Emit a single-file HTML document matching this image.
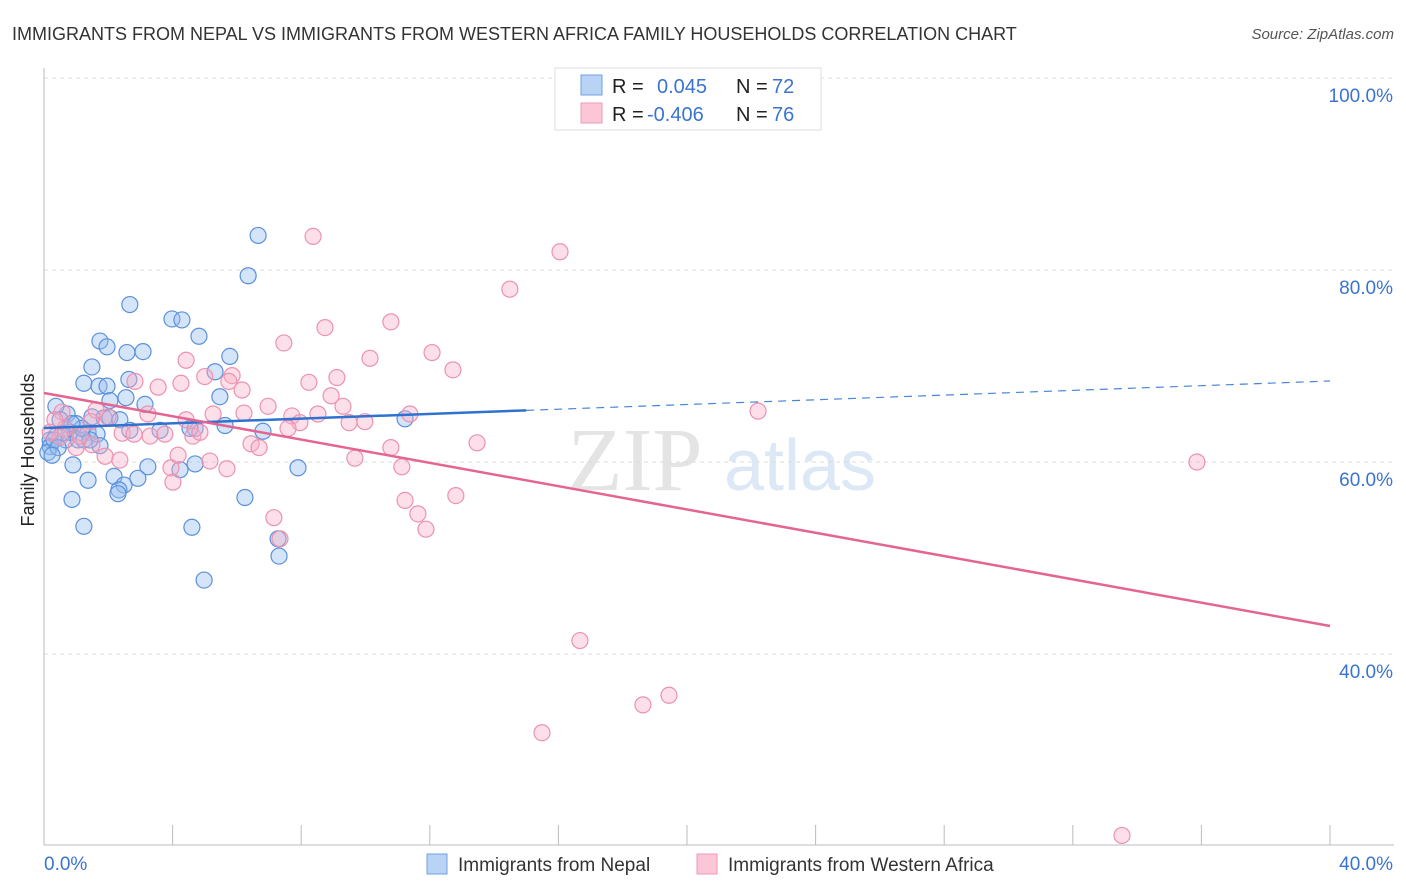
<!DOCTYPE html>
<html><head><meta charset="utf-8"><style>
body{margin:0;background:#fff;font-family:"Liberation Sans",sans-serif}
#c{position:relative;width:1406px;height:892px;overflow:hidden}
</style></head><body>
<div id="c">
<svg id="s" width="1406" height="892" xmlns="http://www.w3.org/2000/svg">
<text x="12" y="40" font-size="18" fill="#333">IMMIGRANTS FROM NEPAL VS IMMIGRANTS FROM WESTERN AFRICA FAMILY HOUSEHOLDS CORRELATION CHART</text>
<text x="1394" y="39" font-size="15" fill="#555" font-style="italic" text-anchor="end">Source: ZipAtlas.com</text>
<text x="40" y="456" font-size="18" fill="#222" transform="rotate(-90 34 456)" text-anchor="middle">Family Households</text>
<g><text x="635" y="490" font-size="90" fill="#e4e4e4" text-anchor="middle" font-family="Liberation Serif">ZIP</text><text x="800" y="490" font-size="72" fill="#dce8f6" text-anchor="middle">atlas</text></g>
<g id="grid"></g><g id="axes"></g><g id="pts"></g><g id="lines"></g>
<g>
<rect x="555" y="68" width="266" height="62" fill="#fff" stroke="#ddd"/>
<rect x="581" y="75" width="21" height="20" fill="#b9d3f5" stroke="#6f9fe0"/>
<rect x="581" y="103" width="21" height="20" fill="#fbc6d6" stroke="#ee9ab5"/>
<text x="612" y="93" font-size="20" fill="#222">R = </text><text x="657" y="93" font-size="20" fill="#3a74d0">0.045</text>
<text x="736" y="93" font-size="20" fill="#222">N = </text><text x="772" y="93" font-size="20" fill="#3a74d0">72</text>
<text x="612" y="121" font-size="20" fill="#222">R = </text><text x="647" y="121" font-size="20" fill="#3a74d0">-0.406</text>
<text x="736" y="121" font-size="20" fill="#222">N = </text><text x="772" y="121" font-size="20" fill="#3a74d0">76</text>
</g>
<g>
<rect x="427" y="854" width="20" height="20" fill="#b9d3f5" stroke="#6f9fe0"/>
<text x="458" y="871" font-size="19" fill="#333">Immigrants from Nepal</text>
<rect x="697" y="854" width="20" height="20" fill="#fbc6d6" stroke="#ee9ab5"/>
<text x="728" y="871" font-size="19" fill="#333">Immigrants from Western Africa</text>
</g>
</svg></div>
<script>
const yTicks=[100,80,60,40];
const yTickLabels=["100.0%","80.0%","60.0%","40.0%"];
const xTickLabels=["0.0%","40.0%"];
const blueX=[6.66,6.35,2.67,3.98,4.29,4.82,1.74,1.96,2.58,3.08,5.78,1.49,5.32,1.24,1.71,1.96,2.64,2.05,2.55,3.14,5.47,0.72,1.49,1.87,2.05,1.0,0.37,0.5,0.81,1.37,1.65,0.37,0.68,1.06,1.24,1.74,0.19,0.19,0.12,4.70,5.63,6.81,11.23,0.9,1.37,2.18,2.49,2.33,2.30,3.23,4.23,4.70,2.92,0.87,7.90,6.25,1.24,4.60,7.28,7.31,4.98,0.56,0.31,0.44,1.43,1.18,0.87,2.36,3.61,4.54,2.67,0.25];
const blueY=[83.6,79.4,76.4,74.9,74.8,73.1,72.6,72.0,71.4,71.5,71.0,69.9,69.4,68.2,67.9,67.9,68.6,66.4,66.7,66.0,66.8,65.0,64.7,64.6,64.6,64.0,65.8,64.4,63.1,63.1,62.9,62.7,62.3,62.3,62.3,61.7,62.3,61.6,61.0,63.5,63.8,63.2,64.5,59.7,58.1,58.5,57.6,57.1,56.7,59.5,59.2,59.8,58.3,56.1,59.4,56.3,53.3,53.2,52.0,50.2,47.7,63.0,62.3,61.5,62.3,63.5,64.0,64.4,63.3,63.5,63.3,60.7];
const pinkX=[8.37,16.05,14.49,10.79,8.74,7.46,4.42,10.14,12.07,12.72,2.83,3.55,4.26,5.0,5.85,6.16,5.75,8.24,9.11,8.93,6.97,7.71,8.52,9.30,6.22,5.26,3.23,1.99,1.62,1.46,0.65,0.5,0.56,1.0,1.49,1.9,2.43,3.30,3.76,4.63,4.85,6.44,6.69,7.96,9.49,9.98,11.38,10.79,9.67,5.16,5.69,3.95,4.01,11.13,11.23,11.63,11.88,12.81,13.47,7.15,7.34,22.21,35.86,16.67,19.44,18.63,15.49,33.53,7.59,2.80,1.12,0.34,0.19,4.17,2.36,4.42];
const pinkY=[83.5,81.9,78.0,74.6,74.0,72.4,70.6,70.8,71.4,69.6,68.4,67.8,68.2,68.9,69.0,67.5,68.4,68.3,68.8,66.9,65.8,64.8,65.0,65.8,65.1,65.0,65.0,64.7,65.4,64.2,63.5,62.6,65.2,61.5,61.8,60.6,63.0,62.7,62.9,62.7,63.1,61.9,61.5,64.1,64.1,64.2,65.0,61.5,60.4,60.1,59.3,59.4,57.9,59.5,56.0,54.6,53.0,56.5,62.0,54.2,52.0,65.3,60.0,41.4,35.7,34.7,31.8,21.1,63.5,62.9,62.7,64.4,63.1,60.7,60.2,64.4];
const blueTrend=[63.54,68.44], blueSolidEnd=15.0;
const pinkTrend=[67.19,42.92];
const NS="http://www.w3.org/2000/svg";
const sx=v=>44+v*32.15, sy=v=>1038-v*9.6;
function mk(t,a,p){const e=document.createElementNS(NS,t);for(const k in a)e.setAttribute(k,a[k]);p.appendChild(e);return e;}
const grid=document.getElementById('grid'),axes=document.getElementById('axes'),pts=document.getElementById('pts'),lines=document.getElementById('lines');
yTicks.forEach((t,i)=>{
 const l=mk('line',{x1:44,x2:1394,y1:sy(t),y2:sy(t),stroke:'#ddd','stroke-dasharray':'4,4'},grid);
 
 
 const tx=mk('text',{x:1393,y:sy(t)+24,'font-size':19,fill:'#3a74d0','text-anchor':'end'},grid);
 tx.textContent=yTickLabels[i];
 
 
});
let a=mk('line',{x1:44,x2:44,y1:68,y2:845,stroke:'#bbb'},axes);

a=mk('line',{x1:44,x2:1394,y1:845,y2:845,stroke:'#bbb'},axes);

for(let i=0;i<=10;i++){const t=mk('line',{x1:sx(i*4),x2:sx(i*4),y1:825,y2:845,stroke:'#bbb'},axes);
 }
let xl=mk('text',{x:44,y:870,'font-size':19,fill:'#3a74d0'},axes);xl.textContent=xTickLabels[0];

xl=mk('text',{x:1393,y:870,'font-size':19,fill:'#3a74d0','text-anchor':'end'},axes);xl.textContent=xTickLabels[1];

blueX.forEach((x,i)=>{const c=mk('circle',{cx:sx(x),cy:sy(blueY[i]),r:8,fill:'rgba(150,190,240,0.4)',stroke:'#5a90dc','stroke-width':1.2},pts);
 });
pinkX.forEach((x,i)=>{const c=mk('circle',{cx:sx(x),cy:sy(pinkY[i]),r:8,fill:'rgba(248,175,198,0.4)',stroke:'#ec92b0','stroke-width':1.2},pts);
 });
const by=x=>blueTrend[0]+(blueTrend[1]-blueTrend[0])*x/40;
let ln=mk('line',{x1:sx(0),y1:sy(by(0)),x2:sx(blueSolidEnd),y2:sy(by(blueSolidEnd)),stroke:'#2f72d0','stroke-width':2.5},lines);

ln=mk('line',{x1:sx(blueSolidEnd),y1:sy(by(blueSolidEnd)),x2:sx(40),y2:sy(by(40)),stroke:'#4a86d8','stroke-width':1.2,'stroke-dasharray':'8,6'},lines);

ln=mk('line',{x1:sx(0),y1:sy(pinkTrend[0]),x2:sx(40),y2:sy(pinkTrend[1]),stroke:'#e46592','stroke-width':2.5},lines);

</script>
</body></html>
